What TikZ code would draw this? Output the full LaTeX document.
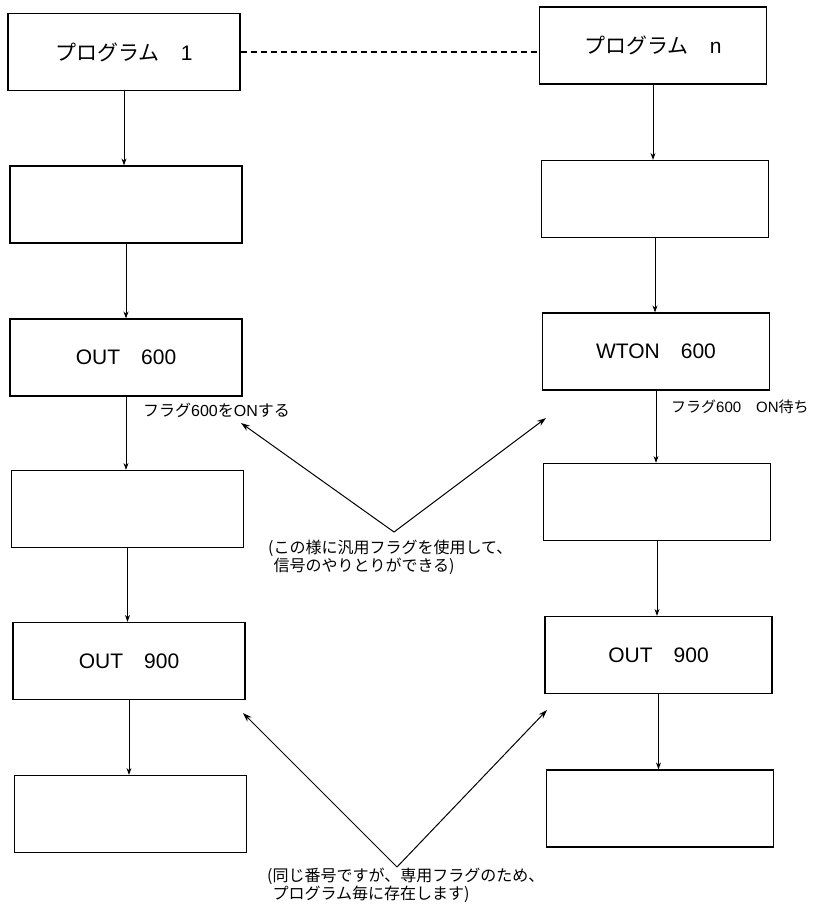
\documentclass[tikz,border=0pt]{standalone}
\usepackage{fontspec}
\setmainfont{Liberation Sans}
\newfontfamily\jp{Noto Sans CJK JP}
\usetikzlibrary{arrows.meta}
\begin{document}
\begin{tikzpicture}[x=1pt,y=-1pt,
  box/.style={draw,line width=1.2pt,minimum width=232pt,minimum height=77pt,inner sep=0pt,font=\fontsize{21}{24}\selectfont},
  rbox/.style={box,minimum width=227pt},
  flow/.style={line width=0.9pt,-{Stealth[length=7pt,width=5pt]}},
  lbl/.style={font=\fontsize{16}{18}\selectfont,inner sep=0pt,anchor=west},
  note/.style={font=\fontsize{16}{18}\selectfont,inner sep=0pt,anchor=north west,align=left},
  pointer/.style={line width=1pt,-{Stealth[length=9pt,width=6pt]}}]
\useasboundingbox (0,0) rectangle (812,912);
% left column
\node[box] (L1) at (124,52) {{\jp プログラム　}1};
\node[box] (L2) at (126,204.5) {};
\node[box] (L3) at (126,357.5) {OUT\quad 600};
\node[box] (L4) at (127.5,509) {};
\node[box] (L5) at (129,661) {OUT\quad 900};
\node[box] (L6) at (130.5,814) {};
% right column
\node[rbox] (R1) at (653,45.5) {{\jp プログラム　}n};
\node[rbox] (R2) at (655,199) {};
\node[rbox] (R3) at (656,351.5) {WTON\quad 600};
\node[rbox] (R4) at (657,502) {};
\node[rbox] (R5) at (658.5,655) {OUT\quad 900};
\node[rbox] (R6) at (660,808.5) {};
% flow arrows
\foreach \a/\b in {L1/L2,L2/L3,L3/L4,L4/L5,L5/L6,R1/R2,R2/R3,R3/R4,R4/R5,R5/R6}
  \draw[flow] (\a.south) -- (\a.south |- \b.north);
% dashed link
\draw[line width=1.1pt,dash pattern=on 6pt off 4pt] (L1.east) -- (L1.east -| R1.west);
% labels
\node[lbl] (f1) at (143,410) {{\jp フラグ}600{\jp を}ON{\jp する}};
\node[lbl,font=\fontsize{15}{18}\selectfont] (f2) at (671,407) {{\jp フラグ}600{\jp 　}ON{\jp 待ち}};
% notes
\node[note] (n1) at (268,540) {{\jp (この様に汎用フラグを使用して、}\\\phantom{(}{\jp 信号のやりとりができる)}};
\node[note] (n2) at (267,868) {{\jp (同じ番号ですが、専用フラグのため、}\\\phantom{(}{\jp プログラム毎に存在します)}};
\coordinate (v1) at (394,532);
\coordinate (t1a) at (241,423);
\coordinate (t1b) at (546,418);
\draw[pointer] (v1) -- (t1a);
\draw[pointer] (v1) -- (t1b);
\coordinate (v2) at (397,867);
\coordinate (t2a) at (243,713);
\coordinate (t2b) at (547,710);
\draw[pointer] (v2) -- (t2a);
\draw[pointer] (v2) -- (t2b);
\end{tikzpicture}
\end{document}
